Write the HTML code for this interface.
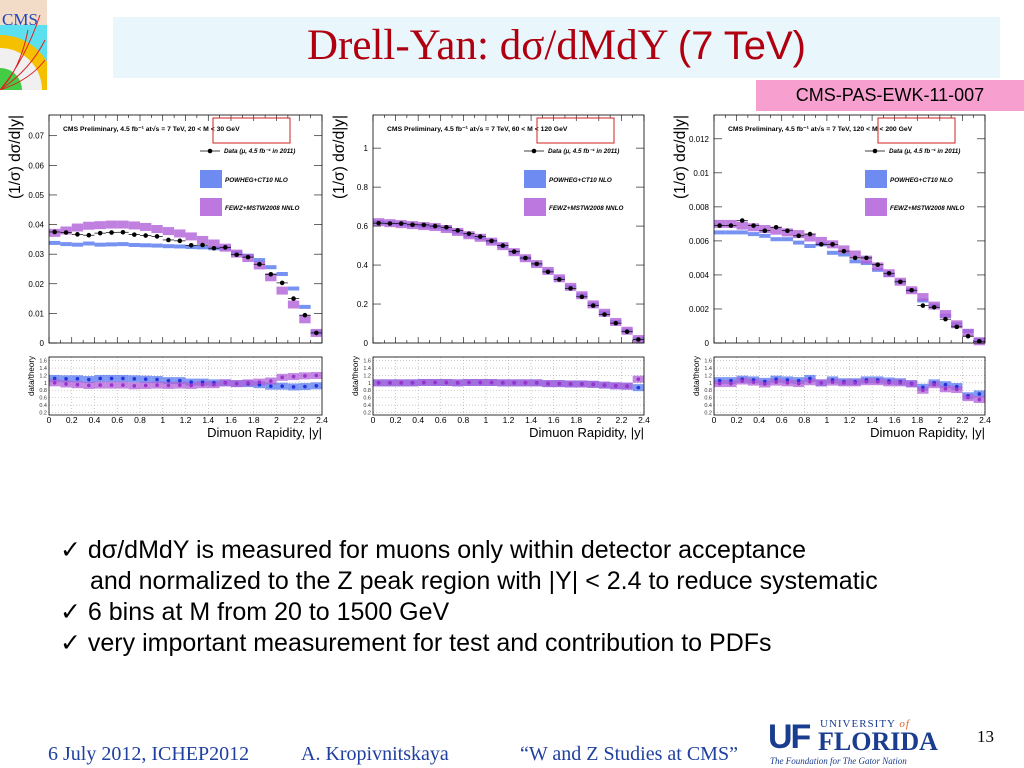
<!DOCTYPE html>
<html><head><meta charset="utf-8">
<style>
body{margin:0;width:1024px;height:768px;overflow:hidden;background:#fff;position:relative;font-family:"Liberation Sans",sans-serif}
.abs{position:absolute}
</style></head>
<body>
<div class="abs" style="left:0;top:0;width:47px;height:90px;background:#f5dcc5;overflow:hidden">
<svg width="47" height="90"><rect x="0" y="0" width="47" height="90" fill="#5ce0f0"/><rect x="0" y="0" width="47" height="25" fill="#f2dcc8"/><circle cx="0" cy="90" r="55" fill="#f5c000"/><circle cx="0" cy="90" r="42" fill="#f0f0f0"/><circle cx="0" cy="90" r="22" fill="#4c4"/><path d="M0 90 Q25 60 40 15 M0 90 Q30 70 45 40 M0 90 Q30 80 45 60 M0 90 Q20 70 28 30" stroke="#d22" fill="none"/><text x="2" y="25" font-family="Liberation Serif" font-size="17" fill="#2244bb">CMS</text></svg>
</div>
<div class="abs" style="left:113px;top:17px;width:887px;height:61px;background:#e9f6fb"></div>
<div class="abs" style="left:113px;top:20px;width:887px;text-align:center;color:#b00010;font-family:'Liberation Serif',serif;font-size:43px;line-height:52px">Drell-Yan: dσ/dMdY <span style="font-family:'Liberation Sans',sans-serif;font-size:40px">(7 TeV)</span></div>
<div class="abs" style="left:756px;top:80px;width:268px;height:31px;background:#f7a0d0;font-size:18px;line-height:31px;text-align:center">CMS-PAS-EWK-11-007</div>

<svg class="abs" style="left:0;top:0" width="1024" height="450" id="charts"></svg>

<div class="abs" style="left:60px;top:535px;font-size:25px;line-height:31px;color:#000">
<div>✓ dσ/dMdY is measured for muons only within detector acceptance</div>
<div style="padding-left:30px">and normalized to the Z peak region with |Y| &lt; 2.4 to reduce systematic</div>
<div>✓ 6 bins at M from 20 to 1500 GeV</div>
<div>✓ very important measurement for test and contribution to PDFs</div>
</div>

<div class="abs" style="left:48px;top:743px;font-family:'Liberation Serif',serif;font-size:20px;color:#2040a0">6 July 2012, ICHEP2012</div>
<div class="abs" style="left:301px;top:743px;font-family:'Liberation Serif',serif;font-size:20px;color:#2040a0">A. Kropivnitskaya</div>
<div class="abs" style="left:520px;top:743px;font-family:'Liberation Serif',serif;font-size:20px;color:#2040a0">“W and Z Studies at CMS”</div>
<div class="abs" style="left:768px;top:716px;width:175px;height:52px">
<div style="position:absolute;left:0;top:2px;font-family:'Liberation Sans';font-weight:bold;font-size:34px;color:#1a3d8f;letter-spacing:-2px">UF</div>
<div style="position:absolute;left:52px;top:2px;font-family:'Liberation Serif';font-size:11px;color:#1a3d8f;letter-spacing:1px">UNIVERSITY <i style="color:#e06020">of</i></div>
<div style="position:absolute;left:50px;top:11px;font-family:'Liberation Serif';font-weight:bold;font-size:26px;color:#1a3d8f">FLORIDA</div>
<div style="position:absolute;left:2px;top:40px;font-family:'Liberation Serif';font-style:italic;font-size:9px;color:#1a3d8f">The Foundation for The Gator Nation</div>
</div>
<div class="abs" style="left:977px;top:727px;font-family:'Liberation Serif',serif;font-size:17px">13</div>

<script>
const bins = [0.05,0.15,0.25,0.35,0.45,0.55,0.65,0.75,0.85,0.95,1.05,1.15,1.25,1.35,1.45,1.55,1.65,1.75,1.85,1.95,2.05,2.15,2.25,2.35];
const xTickLabels = ["0","0.2","0.4","0.6","0.8","1","1.2","1.4","1.6","1.8","2","2.2","2.4"];
const ratioTickLabels = ["0.2","0.4","0.6","0.8","1","1.2","1.4","1.6"];
const massLabels = ["20 < M < 30 GeV","60 < M < 120 GeV","120 < M < 200 GeV"];
const yMaxes = [0.077, 1.17, 0.0134];
const yTicks1 = [0,0.01,0.02,0.03,0.04,0.05,0.06,0.07];
const yTicks2 = [0,0.2,0.4,0.6,0.8,1];
const yTicks3 = [0,0.002,0.004,0.006,0.008,0.01,0.012];
const data1 = [.0375,.0373,.0367,.0364,.0371,.0373,.0374,.0366,.0363,.0360,.0348,.0345,.0330,.0331,.0320,.0323,.0298,.0290,.0266,.0232,.0203,.0150,.0094,.0034];
const powheg1 = [.0338,.0334,.0332,.0336,.0332,.0333,.0334,.0331,.0330,.0329,.0327,.0326,.0324,.0323,.0320,.0320,.0305,.0295,.0280,.0256,.0233,.0184,.0122,.0036];
const fewz1 = [.0372,.0380,.0390,.0396,.0398,.0400,.0400,.0397,.0392,.0385,.0378,.0370,.0360,.0348,.0336,.0322,.0302,.0287,.0262,.0222,.0177,.0130,.0080,.0034];
const ratioP1 = [1.12,1.11,1.11,1.09,1.12,1.12,1.12,1.11,1.10,1.09,1.06,1.06,1.02,1.02,1.00,1.00,0.98,0.98,0.95,0.91,0.91,0.89,0.90,0.92];
const ratioF1 = [1.0,0.97,0.95,0.93,0.94,0.94,0.94,0.92,0.93,0.94,0.93,0.94,0.93,0.95,0.95,1.00,0.98,1.00,1.02,1.05,1.15,1.17,1.19,1.20];
const data2 = [.615,.613,.613,.607,.606,.600,.594,.578,.561,.546,.524,.500,.469,.436,.406,.365,.326,.280,.237,.192,.146,.102,.058,.018];
const powheg2 = [.62,.615,.61,.605,.60,.595,.585,.57,.553,.54,.52,.497,.466,.435,.405,.37,.332,.288,.245,.198,.155,.108,.063,.02];
const fewz2 = [.62,.615,.61,.605,.60,.595,.585,.57,.553,.54,.52,.497,.466,.435,.405,.37,.332,.288,.245,.198,.155,.108,.063,.02];
const ratioP2 = [1.0,1.0,1.0,1.0,1.01,1.01,1.01,1.0,1.01,1.01,1.01,1.0,1.0,1.0,1.0,0.98,0.98,0.97,0.97,0.96,0.94,0.92,0.91,0.87];
const ratioF2 = [1.0,1.0,1.0,1.0,1.01,1.01,1.01,1.0,1.01,1.01,1.01,1.0,1.0,1.0,1.0,0.98,0.98,0.97,0.97,0.96,0.94,0.92,0.91,1.1];
const data3 = [.0069,.0069,.0072,.0069,.0066,.0068,.0066,.0063,.0064,.0058,.0058,.0054,.0050,.0050,.0046,.0041,.0036,.0031,.0022,.0021,.0014,.00095,.0004,.0001];
const powheg3 = [.0065,.0065,.0065,.0064,.0063,.0061,.0061,.0059,.0057,.0058,.0053,.0052,.0048,.0047,.0043,.0040,.0036,.0031,.0025,.0022,.0016,.0011,.0007,.0002];
const fewz3 = [.0070,.0070,.0069,.0068,.0067,.0066,.0065,.0064,.0062,.0060,.0058,.0055,.0052,.0049,.0045,.0041,.0036,.0031,.0027,.0022,.0017,.0011,.0006,.0001];
const ratioP3 = [1.06,1.06,1.1,1.08,1.04,1.1,1.08,1.06,1.12,1.0,1.08,1.03,1.03,1.08,1.08,1.05,1.03,0.98,0.88,1.0,0.95,0.9,0.65,0.70];
const ratioF3 = [.98,.98,1.05,1.02,.97,1.02,1.0,.98,1.03,1.0,1.02,1.0,1.0,1.03,1.03,1.0,1.0,0.97,0.8,0.95,0.84,0.82,0.6,0.55];

const NS="http://www.w3.org/2000/svg";
const svg=document.getElementById('charts');
function mk(tag,attrs,parent,text){const e=document.createElementNS(NS,tag);for(const k in attrs)e.setAttribute(k,attrs[k]);if(text!==undefined)e.textContent=text;(parent||svg).appendChild(e);return e;}

function drawChart(idx,x0,x1,yMax,yTicks,data,powheg,fewz,rP,rF){
  const g=mk('g',{});
  
  
  const top=115,bot=343,rTop=357,rBot=415;
  const xs=v=>x0+(v/2.4)*(x1-x0);
  const ys=v=>bot-(v/yMax)*(bot-top);
  const rMin=0.13,rMax=1.7;
  const rs=v=>rBot-((v-rMin)/(rMax-rMin))*(rBot-rTop);
  const hw=(x1-x0)/24/2;
  ratioTickLabels.forEach(t=>{const y=rs(+t);mk('line',{x1:x0,x2:x1,y1:y,y2:y,stroke:'#aaa','stroke-dasharray':'1,2','stroke-width':0.6},g);
    mk('text',{x:x0-2,y:y+2,'font-size':5.5,'text-anchor':'end',fill:'#333'},g,t);});
  xTickLabels.forEach(t=>{const x=xs(+t);mk('line',{x1:x,x2:x,y1:rTop,y2:rBot,stroke:'#aaa','stroke-dasharray':'1,2','stroke-width':0.6},g);});
  bins.forEach((b,i)=>{
    const bp=mk('rect',{x:xs(b)-hw,y:ys(powheg[i])-2,width:2*hw,height:4,fill:'#5577ee','fill-opacity':0.8},g);
    
    
    const bf=mk('rect',{x:xs(b)-hw,y:ys(fewz[i])-4,width:2*hw,height:8,fill:'#b060d8','fill-opacity':0.8},g);
    
    
  });
  bins.forEach((b,i)=>{
    mk('line',{x1:xs(b)-hw,x2:xs(b)+hw,y1:ys(data[i]),y2:ys(data[i]),stroke:'#000','stroke-width':0.7},g);
    const c=mk('circle',{cx:xs(b),cy:ys(data[i]),r:2.3,fill:'#000'},g);
    
    
    const rb=mk('rect',{x:xs(b)-hw,y:rs(rP[i])-3.5,width:2*hw,height:7,fill:'#5577ee','fill-opacity':0.75},g);
    
    
    const rf=mk('rect',{x:xs(b)-hw,y:rs(rF[i])-3.5,width:2*hw,height:7,fill:'#b060d8','fill-opacity':0.75},g);
    
    
    mk('circle',{cx:xs(b),cy:rs(rP[i]),r:1.8,fill:'#2233dd'},g);
    mk('circle',{cx:xs(b),cy:rs(rF[i]),r:1.8,fill:'#9933cc'},g);
  });
  mk('rect',{x:x0,y:top,width:x1-x0,height:bot-top,fill:'none',stroke:'#000','stroke-width':0.8},g);
  mk('rect',{x:x0,y:rTop,width:x1-x0,height:rBot-rTop,fill:'none',stroke:'#000','stroke-width':0.8},g);
  for(let k=0;k<=24;k++){const x=xs(k*0.1);const L=k%2==0?6:3;
    mk('line',{x1:x,x2:x,y1:bot,y2:bot-L,stroke:'#000','stroke-width':0.6},g);
    mk('line',{x1:x,x2:x,y1:top,y2:top+L,stroke:'#000','stroke-width':0.6},g);}
  xTickLabels.forEach(t=>{mk('text',{x:xs(+t),y:rBot+8,'font-size':8.5,'text-anchor':'middle'},g,t);});
  yTicks.forEach(t=>{const y=ys(t);
    mk('line',{x1:x0,x2:x0+8,y1:y,y2:y,stroke:'#000','stroke-width':0.6},g);
    mk('line',{x1:x1,x2:x1-8,y1:y,y2:y,stroke:'#000','stroke-width':0.6},g);
    mk('text',{x:x0-5,y:y+3,'font-size':8,'text-anchor':'end'},g,String(t));});
  mk('text',{x:x0-29,y:top,'font-size':15.5,transform:`rotate(-90 ${x0-29} ${top})`,'text-anchor':'end'},g,'(1/σ) dσ/d|y|');
  mk('text',{x:x0-15,y:rTop-1,'font-size':8,transform:`rotate(-90 ${x0-15} ${rTop-1})`,'text-anchor':'end'},g,'data/theory');
  mk('text',{x:x1,y:rBot+22,'font-size':13,'text-anchor':'end'},g,'Dimuon Rapidity, |y|');
  mk('text',{x:x0+14,y:top+16,'font-size':6.8,'font-weight':'bold'},g,'CMS Preliminary, 4.5 fb⁻¹ at√s = 7 TeV, '+massLabels[idx]);
  mk('rect',{x:x0+164,y:top+3,width:77,height:25,fill:'none',stroke:'#d02020','stroke-width':1},g);
  mk('line',{x1:x0+151,x2:x0+171,y1:top+36,y2:top+36,stroke:'#000','stroke-width':0.7},g);
  mk('circle',{cx:x0+161,cy:top+36,r:2.3,fill:'#000'},g);
  mk('text',{x:x0+175,y:top+38,'font-size':6.3,'font-weight':'bold','font-style':'italic'},g,'Data (μ, 4.5 fb⁻¹ in 2011)');
  mk('rect',{x:x0+151,y:top+55,width:22,height:18,fill:'#5577ee','fill-opacity':0.85},g);
  mk('text',{x:x0+176,y:top+67,'font-size':6.3,'font-weight':'bold','font-style':'italic'},g,'POWHEG+CT10 NLO');
  mk('rect',{x:x0+151,y:top+83,width:22,height:18,fill:'#b060d8','fill-opacity':0.85},g);
  mk('text',{x:x0+176,y:top+95,'font-size':6.3,'font-weight':'bold','font-style':'italic'},g,'FEWZ+MSTW2008 NNLO');
}
drawChart(0,49,322,yMaxes[0],yTicks1,data1,powheg1,fewz1,ratioP1,ratioF1);
drawChart(1,373,644,yMaxes[1],yTicks2,data2,powheg2,fewz2,ratioP2,ratioF2);
drawChart(2,714,985,yMaxes[2],yTicks3,data3,powheg3,fewz3,ratioP3,ratioF3);
</script>
</body></html>
